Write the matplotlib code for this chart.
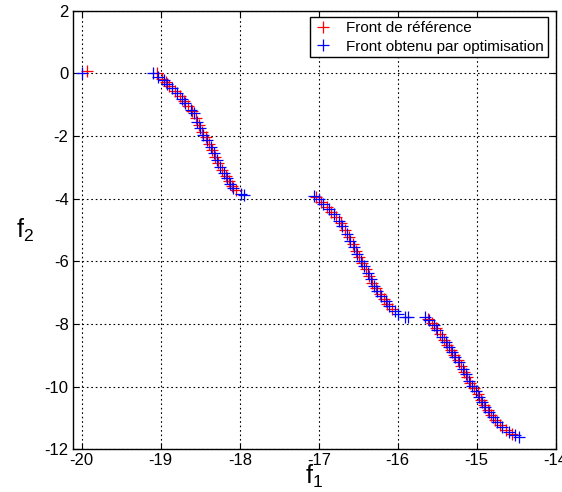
"""
Front de Pareto : front de référence vs front obtenu par optimisation.
"""
import matplotlib
matplotlib.use("Agg")
import matplotlib.pyplot as plt

plt.rcParams['font.family'] = ['Liberation Sans', 'DejaVu Sans']

# front de référence (rouge)
ref_f1 = [-19.94, -19.05, -18.99, -18.94, -18.89, -18.82, -18.76, -18.71, -18.65,
          -18.60, -18.56, -18.52, -18.48, -18.43, -18.39, -18.35, -18.31, -18.27,
          -18.22, -18.18, -18.14, -18.10, -18.05,
          -17.04, -16.97, -16.90, -16.84, -16.78, -16.72, -16.67, -16.62, -16.57,
          -16.53, -16.49, -16.45, -16.40, -16.36, -16.32, -16.28, -16.23, -16.18,
          -16.13, -16.07,
          -15.62, -15.57, -15.52, -15.47, -15.41, -15.37, -15.33, -15.29, -15.24,
          -15.20, -15.16, -15.12, -15.08, -15.03, -14.99, -14.95, -14.91, -14.86,
          -14.82, -14.77, -14.71, -14.63, -14.55]
ref_f2 = [0.07, 0.0, -0.17, -0.29, -0.41, -0.56, -0.74, -0.89, -1.06,
          -1.22, -1.42, -1.65, -1.87, -2.05, -2.25, -2.46, -2.66, -2.88,
          -3.09, -3.27, -3.44, -3.60, -3.72,
          -3.96, -4.10, -4.26, -4.42, -4.60, -4.79, -5.00, -5.24, -5.45,
          -5.67, -5.88, -6.07, -6.25, -6.47, -6.68, -6.87, -7.03, -7.19,
          -7.35, -7.51,
          -7.83, -7.97, -8.13, -8.32, -8.51, -8.66, -8.82, -8.98, -9.14,
          -9.33, -9.52, -9.70, -9.89, -10.05, -10.23, -10.42, -10.58, -10.74,
          -10.90, -11.06, -11.22, -11.38, -11.51]

# front obtenu par optimisation (bleu)
opt_f1 = [-20.00, -19.10, -19.03, -18.96, -18.92, -18.86, -18.79, -18.73, -18.69,
          -18.62, -18.58, -18.54, -18.50, -18.46, -18.41, -18.37, -18.33, -18.29,
          -18.25, -18.20, -18.16, -18.12, -18.08, -17.99, -17.95,
          -17.06, -17.00, -16.94, -16.87, -16.81, -16.75, -16.70, -16.64, -16.60,
          -16.55, -16.51, -16.47, -16.43, -16.38, -16.34, -16.30, -16.26, -16.21,
          -16.15, -16.11, -16.04, -16.00, -15.91, -15.87,
          -15.65, -15.60, -15.54, -15.50, -15.44, -15.39, -15.35, -15.31, -15.27,
          -15.22, -15.18, -15.14, -15.10, -15.06, -15.01, -14.97, -14.93, -14.89,
          -14.84, -14.80, -14.74, -14.68, -14.59, -14.51, -14.46]
opt_f2 = [0.0, 0.0, -0.11, -0.23, -0.34, -0.48, -0.64, -0.83, -0.94,
          -1.17, -1.28, -1.54, -1.76, -1.97, -2.13, -2.36, -2.55, -2.77,
          -2.98, -3.19, -3.35, -3.53, -3.67, -3.85, -3.88,
          -3.92, -4.02, -4.18, -4.34, -4.50, -4.71, -4.87, -5.14, -5.35,
          -5.56, -5.78, -5.99, -6.15, -6.36, -6.57, -6.79, -6.95, -7.11,
          -7.27, -7.43, -7.59, -7.69, -7.78, -7.78,
          -7.77, -7.89, -8.05, -8.21, -8.43, -8.59, -8.75, -8.90, -9.06,
          -9.22, -9.44, -9.60, -9.81, -9.97, -10.13, -10.34, -10.50, -10.66,
          -10.82, -10.98, -11.14, -11.30, -11.46, -11.56, -11.62]

x_ticks = [-20, -19, -18, -17, -16, -15, -14]
y_ticks = [-12, -10, -8, -6, -4, -2, 0, 2]

fig = plt.figure(figsize=(5.62, 4.92), dpi=100)
ax = fig.add_axes([0.1294, 0.087, 0.8594, 0.8914])

ax.plot(ref_f1, ref_f2, linestyle='none', marker='+', color='red',
        markersize=9, markeredgewidth=0.9, label='Front de référence')
ax.plot(opt_f1, opt_f2, linestyle='none', marker='+', color='blue',
        markersize=9, markeredgewidth=0.9, label='Front obtenu par optimisation')

ax.set_xlim(-20.115, -14)
ax.set_ylim(-12, 2)
ax.set_xticks(x_ticks)
ax.set_yticks(y_ticks)
ax.set_xticklabels([str(t) for t in x_ticks])
ax.set_yticklabels([str(t) for t in y_ticks])
ax.tick_params(direction='in', length=4, width=0.8, labelsize=12,
               top=True, right=True, pad=3)
ax.grid(True, linestyle=(0, (1.5, 2.5)), color='black', linewidth=0.8)
for s in ax.spines.values():
    s.set_linewidth(1.0)

ax.set_xlabel(r'$\mathregular{f_1}$', fontsize=18, labelpad=-4)
ax.set_ylabel(r'$\mathregular{f_2}$', fontsize=18, rotation=0, labelpad=14,
              va='center')

leg = ax.legend(loc='upper right', bbox_to_anchor=(0.9835, 0.985), fontsize=11,
                fancybox=False, framealpha=1, edgecolor='black',
                borderpad=0.25, handlelength=1.2, handletextpad=0.9,
                labelspacing=0.3, borderaxespad=0, markerscale=0.9)
leg.get_frame().set_linewidth(1.0)

fig.savefig('out.png', dpi=100)
